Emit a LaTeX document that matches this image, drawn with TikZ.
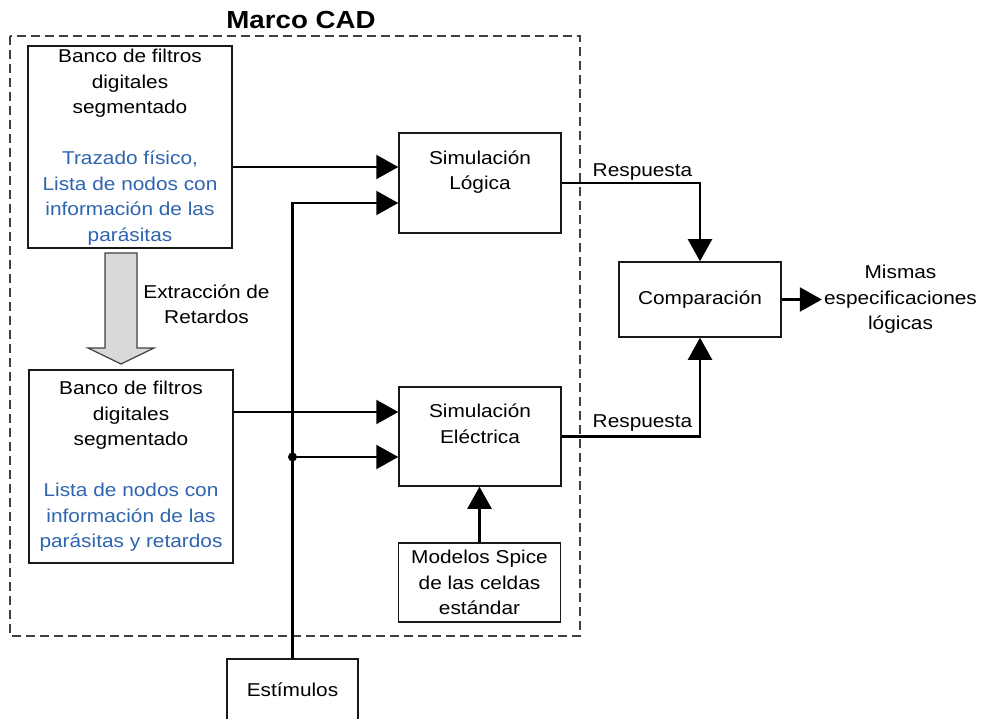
\documentclass[tikz,border=0pt]{standalone}
\usepackage{fontspec}
\setmainfont{Liberation Sans}[FakeStretch=1.12]
\usetikzlibrary{arrows.meta,calc}
\definecolor{txtblue}{RGB}{47,100,176}
\definecolor{framegray}{RGB}{64,64,64}
\definecolor{arrowfill}{RGB}{217,217,217}
\begin{document}
\begin{tikzpicture}[x=1pt,y=-1pt,
  box/.style={draw=black!90, line width=1.5pt, align=center, inner sep=2pt,
    font=\fontsize{18.6}{25.5}\selectfont},
  txt/.style={align=center, inner sep=2pt, font=\fontsize{18.6}{25.5}\selectfont},
  conn/.style={line width=2.2pt, -{Triangle[length=22pt,width=24pt]}},
]
\useasboundingbox[fill=white] (0,0) rectangle (985,719);

% CAD framework boundary and its title
\draw[framegray, line width=1.3pt, dash pattern=on 9pt off 5pt] (10,36) rectangle (580,636);
\node[font=\fontsize{24.7}{28}\selectfont\bfseries, inner sep=0pt] (title) at (301,20) {Marco CAD};

% filter bank blocks
\node[box, minimum width=204pt, minimum height=202pt] (b1) at (130,147)
  {Banco de filtros\\digitales\\segmentado\\[25.5pt]
   \textcolor{txtblue}{Trazado físico,}\\
   \textcolor{txtblue}{Lista de nodos con}\\
   \textcolor{txtblue}{información de las}\\
   \textcolor{txtblue}{parásitas}};
\node[box, minimum width=204pt, minimum height=193pt] (b2) at (131,466.5)
  {Banco de filtros\\digitales\\segmentado\\[25.5pt]
   \textcolor{txtblue}{Lista de nodos con}\\
   \textcolor{txtblue}{información de las}\\
   \textcolor{txtblue}{parásitas y retardos}};

% wide grey arrow for the delay extraction step
\draw[framegray, fill=arrowfill, line width=1.2pt]
  (105,253) -- (137,253) -- (137,348) -- (154,348) -- (121,364) -- (88,348) -- (105,348) -- cycle;
\node[txt] (extr) at (206.5,304) {Extracción de\\Retardos};

% simulation blocks
\node[box, minimum width=162pt, minimum height=100pt] (simL) at (480,183)
  {Simulación\\Lógica\\\mbox{}};
\node[box, minimum width=162pt, minimum height=99pt] (simE) at (480,436.5)
  {Simulación\\Eléctrica\\\mbox{}};
\node[box, minimum width=162pt, minimum height=79pt] (spice) at (479.5,582.5)
  {Modelos Spice\\de las celdas\\estándar};
\node[box, minimum width=162pt, minimum height=75pt] (comp) at (700,299.5)
  {Comparación};
\node[box, minimum width=131pt, minimum height=62pt] (estim) at (292.5,690)
  {Estímulos};
\node[txt] (out) at (900.5,299.5) {Mismas\\especificaciones\\lógicas};

% connectors
\draw[conn] ([yshift=16pt]simL.west -| b1.east) -- ([yshift=16pt]simL.west);
\draw[conn] (estim.north) |- ([yshift=-20pt]simL.west);
\draw[conn] ([yshift=24.5pt]simE.west -| b2.east) -- ([yshift=24.5pt]simE.west);
\draw[conn] ([yshift=-20.5pt]simE.west -| estim.north) coordinate (junc) -- ([yshift=-20.5pt]simE.west);
\fill (junc) circle (4.5pt);
\draw[conn] (spice.north) -- (spice.north |- simE.south);
\draw[conn] (simL.east) -| (comp.north);
\draw[conn] (simE.east) -| (comp.south);
\draw[conn] (comp.east) -- (comp.east -| out.west);

% response labels
\node[txt] (r1) at (642.5,172) {Respuesta};
\node[txt] (r2) at (642.5,423) {Respuesta};
\end{tikzpicture}
\end{document}
